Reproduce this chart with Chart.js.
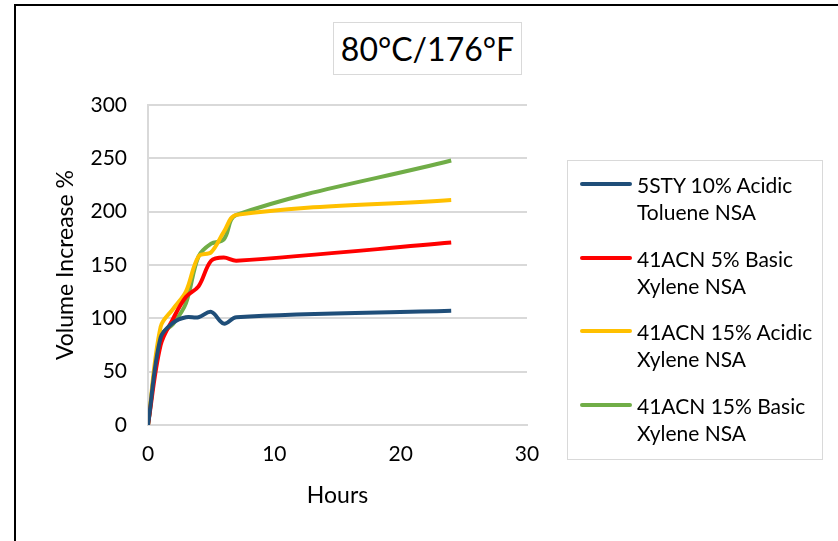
<!DOCTYPE html>
<html>
<head>
<meta charset="utf-8">
<script src="https://cdn.jsdelivr.net/npm/chart.js@4/dist/chart.umd.min.js"></script>
<style>
  html, body { margin: 0; padding: 0; background: #fff; }
  body { width: 838px; height: 541px; position: relative; overflow: hidden; font-family: Lato, "Noto Sans", sans-serif; color: #000; }
  #frame { position: absolute; left: 14px; top: 4px; width: 900px; height: 600px; border-left: 2px solid #000; border-top: 2px solid #000; }
  #wrap { position: absolute; left: 0; top: 0; width: 838px; height: 541px; }
  #title { position: absolute; left: 333px; top: 22px; width: 187px; height: 51px; border: 1.5px solid #d9d9d9; font-size: 32px; line-height: 51px; text-align: center; background: #fff; }
  #legend { position: absolute; left: 567px; top: 160px; width: 256px; height: 300px; border: 1.5px solid #d9d9d9; box-sizing: border-box; }
  .item { position: absolute; left: 12px; display: flex; align-items: flex-start; }
  .swatch { width: 52px; height: 4px; margin-top: 11px; margin-right: 5px; border-radius: 2px; }
  .label { font-size: 21px; line-height: 27px; white-space: pre; }
</style>
</head>
<body>
<div id="frame"></div>
<div id="wrap"><canvas id="chart" width="838" height="541"></canvas></div>
<div id="title"></div>
<div id="legend"></div>
<script>
// Immersion time in hours
const hours = [0, 1, 2, 3, 4, 5, 6, 7, 24];

// Volume increase (%) for each sample
const sty10Acidic = [0, 82, 96, 101, 101, 106, 95, 101, 107];
const acn5Basic = [0, 75, 100, 120, 130, 154, 157, 154, 171];
const acn15Acidic = [0, 92, 109, 125, 158, 162, 181, 197, 211];
const acn15Basic = [0, 83, 95, 114, 158, 170, 174, 197, 248];

const seriesNames = [
  ['5STY 10% Acidic', 'Toluene NSA'],
  ['41ACN 5% Basic', 'Xylene NSA'],
  ['41ACN 15% Acidic', 'Xylene NSA'],
  ['41ACN 15% Basic', 'Xylene NSA']
];
const seriesValues = [sty10Acidic, acn5Basic, acn15Acidic, acn15Basic];
const seriesColors = ['#1F4E79', '#FF0000', '#FFC000', '#70AD47'];

const xTicks = [0, 10, 20, 30];
const yTicks = [0, 50, 100, 150, 200, 250, 300];

const chartTitle = '80°C/176°F';
const xTitle = 'Hours';
const yTitle = 'Volume Increase %';

const FONT = 'Lato, "Noto Sans", sans-serif';

const datasets = seriesValues.map((vals, i) => ({
  label: seriesNames[i].join(' '),
  data: hours.map((h, j) => ({ x: h, y: vals[j] })),
  borderColor: seriesColors[i],
  backgroundColor: seriesColors[i],
  borderWidth: 4,
  pointRadius: 0,
  tension: 0.35,
  fill: false
}));

new Chart(document.getElementById('chart'), {
  type: 'line',
  data: { datasets },
  options: {
    responsive: false,
    animation: false,
    devicePixelRatio: 1,
    layout: { padding: { left: 0, top: 105, right: 311, bottom: 0 } },
    plugins: { legend: { display: false }, title: { display: false }, tooltip: { enabled: false } },
    scales: {
      x: {
        type: 'linear',
        min: 0, max: 30,
        afterBuildTicks: (s) => { s.ticks = xTicks.map(v => ({ value: v })); },
        afterFit: (s) => { s.height = 116; },
        grid: { display: false },
        border: { display: true, color: '#d9d9d9', width: 2 },
        ticks: { color: '#000', padding: 9, font: { family: FONT, size: 21 } },
        title: { display: true, text: xTitle, color: '#000', font: { family: FONT, size: 23 }, padding: { top: 0, bottom: 32 } }
      },
      y: {
        min: 0, max: 300,
        afterBuildTicks: (s) => { s.ticks = yTicks.map(v => ({ value: v })); },
        afterFit: (s) => { s.width = 148; },
        grid: { color: '#d9d9d9', lineWidth: 2, drawTicks: false },
        border: { display: true, color: '#d9d9d9', width: 2 },
        ticks: { color: '#000', padding: 21, font: { family: FONT, size: 21 } },
        title: { display: true, text: yTitle, color: '#000', font: { family: FONT, size: 23 }, padding: { top: 52, bottom: 0 } }
      }
    }
  }
});

// Title box
document.getElementById('title').textContent = chartTitle;

// Legend built from the series
const legend = document.getElementById('legend');
seriesNames.forEach((lines, i) => {
  const item = document.createElement('div');
  item.className = 'item';
  item.style.top = (10 + i * 73.5) + 'px';
  const sw = document.createElement('div');
  sw.className = 'swatch';
  sw.style.background = seriesColors[i];
  const lb = document.createElement('div');
  lb.className = 'label';
  lb.textContent = lines.join('\n');
  item.appendChild(sw);
  item.appendChild(lb);
  legend.appendChild(item);
});
</script>
</body>
</html>
